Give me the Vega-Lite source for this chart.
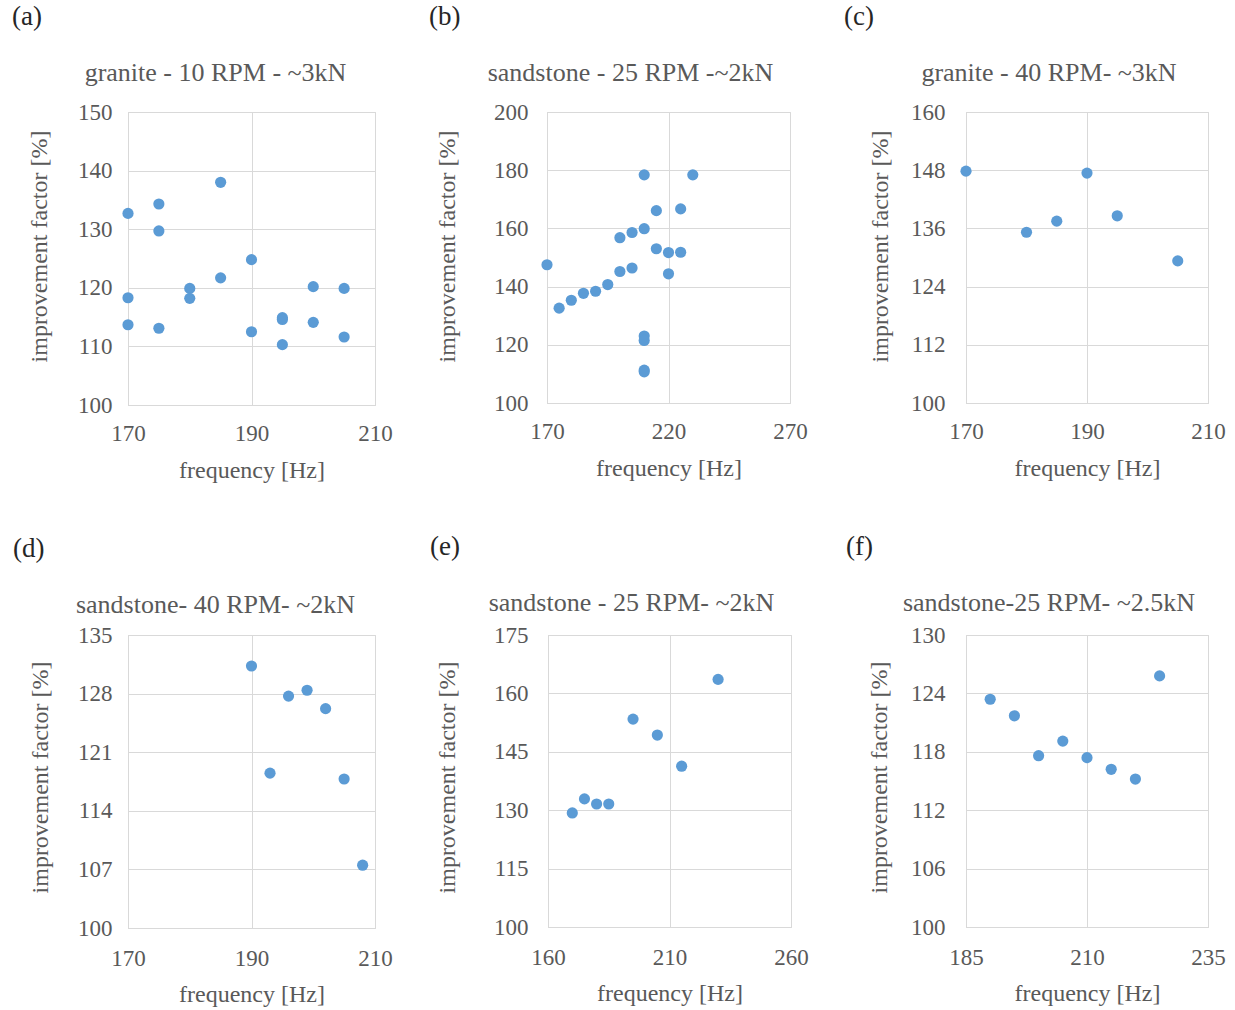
{
  "$schema": "https://vega.github.io/schema/vega-lite/v6.json",
  "background": "white",
  "padding": {"left": 12, "top": 2, "right": 0, "bottom": 0},
  "config": {
    "font": "Liberation Serif",
    "view": {"stroke": "#d9d9d9", "strokeWidth": 1},
    "axis": {
      "domainColor": "#d9d9d9", "gridColor": "#d9d9d9", "grid": true, "ticks": false, "labelFlush": false,
      "labelFont": "Liberation Serif", "labelFontSize": 23, "labelColor": "#595959",
      "titleFont": "Liberation Serif", "titleFontSize": 24, "titleColor": "#595959", "titleFontWeight": "normal"
    },
    "title": {"font": "Liberation Serif", "fontWeight": "normal"}
  },
  "spacing": 49,
  "vconcat": [
    {
      "spacing": 36,
      "hconcat": [
        {
          "title": {"text": "(a)", "anchor": "start", "dx": -15, "fontSize": 27, "color": "#262626", "offset": 29},
          "vconcat": [{
            "width": 247, "height": 293,
            "title": {"text": "granite - 10 RPM - ~3kN", "fontSize": 26, "color": "#595959", "offset": 15, "dx": -36},
            "data": {"values": [
              {"f": 170, "v": 132.7}, {"f": 175, "v": 134.3}, {"f": 175, "v": 129.7}, {"f": 185, "v": 138.0},
              {"f": 190, "v": 124.8}, {"f": 170, "v": 118.3}, {"f": 180, "v": 119.9}, {"f": 180, "v": 118.2},
              {"f": 185, "v": 121.7}, {"f": 200, "v": 120.2}, {"f": 205, "v": 119.9}, {"f": 170, "v": 113.7},
              {"f": 175, "v": 113.1}, {"f": 190, "v": 112.5}, {"f": 195, "v": 114.9}, {"f": 195, "v": 114.6},
              {"f": 200, "v": 114.1}, {"f": 195, "v": 110.3}, {"f": 205, "v": 111.6}
            ]},
            "mark": {"type": "circle", "size": 125, "color": "#5b9bd5", "opacity": 1},
            "encoding": {
              "x": {"field": "f", "type": "quantitative", "scale": {"domain": [170, 210], "nice": false, "zero": false},
                    "axis": {"values": [170, 190, 210], "title": "frequency [Hz]", "labelPadding": 17, "titlePadding": 13}},
              "y": {"field": "v", "type": "quantitative", "scale": {"domain": [100, 150], "nice": false, "zero": false},
                    "axis": {"values": [100, 110, 120, 130, 140, 150], "title": "improvement factor [%]", "labelPadding": 16, "titlePadding": 26, "titleY": 134}}
            }
          }]
        },
        {
          "title": {"text": "(b)", "anchor": "start", "dx": -6, "fontSize": 27, "color": "#262626", "offset": 29},
          "vconcat": [{
            "width": 243, "height": 291,
            "title": {"text": "sandstone - 25 RPM -~2kN", "fontSize": 26, "color": "#595959", "offset": 15, "dx": -38},
            "data": {"values": [
              {"f": 170, "v": 147.5}, {"f": 175, "v": 132.6}, {"f": 180, "v": 135.3}, {"f": 185, "v": 137.7},
              {"f": 190, "v": 138.4}, {"f": 195, "v": 140.7}, {"f": 200, "v": 145.2}, {"f": 200, "v": 156.8},
              {"f": 205, "v": 158.6}, {"f": 205, "v": 146.4}, {"f": 210, "v": 178.4}, {"f": 210, "v": 159.9},
              {"f": 215, "v": 166.1}, {"f": 215, "v": 153.0}, {"f": 220, "v": 151.7}, {"f": 220, "v": 144.4},
              {"f": 225, "v": 166.7}, {"f": 225, "v": 151.8}, {"f": 230, "v": 178.4}, {"f": 210, "v": 123.0},
              {"f": 210, "v": 121.5}, {"f": 210, "v": 111.3}, {"f": 210, "v": 110.7}
            ]},
            "mark": {"type": "circle", "size": 125, "color": "#5b9bd5", "opacity": 1},
            "encoding": {
              "x": {"field": "f", "type": "quantitative", "scale": {"domain": [170, 270], "nice": false, "zero": false},
                    "axis": {"values": [170, 220, 270], "title": "frequency [Hz]", "labelPadding": 17, "titlePadding": 13}},
              "y": {"field": "v", "type": "quantitative", "scale": {"domain": [100, 200], "nice": false, "zero": false},
                    "axis": {"values": [100, 120, 140, 160, 180, 200], "title": "improvement factor [%]", "labelPadding": 19, "titlePadding": 34, "titleY": 134}}
            }
          }]
        },
        {
          "title": {"text": "(c)", "anchor": "start", "dx": -24, "fontSize": 27, "color": "#262626", "offset": 29},
          "vconcat": [{
            "width": 242, "height": 291,
            "title": {"text": "granite - 40 RPM- ~3kN", "fontSize": 26, "color": "#595959", "offset": 15, "dx": -38},
            "data": {"values": [
              {"f": 170, "v": 147.8}, {"f": 180, "v": 135.2}, {"f": 185, "v": 137.5},
              {"f": 190, "v": 147.4}, {"f": 195, "v": 138.6}, {"f": 205, "v": 129.3}
            ]},
            "mark": {"type": "circle", "size": 125, "color": "#5b9bd5", "opacity": 1},
            "encoding": {
              "x": {"field": "f", "type": "quantitative", "scale": {"domain": [170, 210], "nice": false, "zero": false},
                    "axis": {"values": [170, 190, 210], "title": "frequency [Hz]", "labelPadding": 17, "titlePadding": 13}},
              "y": {"field": "v", "type": "quantitative", "scale": {"domain": [100, 160], "nice": false, "zero": false},
                    "axis": {"values": [100, 112, 124, 136, 148, 160], "title": "improvement factor [%]", "labelPadding": 21, "titlePadding": 18, "titleY": 134}}
            }
          }]
        }
      ]
    },
    {
      "spacing": 37,
      "hconcat": [
        {
          "title": {"text": "(d)", "anchor": "start", "dx": -15, "fontSize": 27, "color": "#262626", "offset": 29},
          "vconcat": [{
            "width": 247, "height": 293,
            "title": {"text": "sandstone- 40 RPM- ~2kN", "fontSize": 26, "color": "#595959", "offset": 6, "dx": -36},
            "data": {"values": [
              {"f": 190, "v": 131.3}, {"f": 196, "v": 127.7}, {"f": 199, "v": 128.4}, {"f": 202, "v": 126.2},
              {"f": 193, "v": 118.5}, {"f": 205, "v": 117.8}, {"f": 208, "v": 107.5}
            ]},
            "mark": {"type": "circle", "size": 125, "color": "#5b9bd5", "opacity": 1},
            "encoding": {
              "x": {"field": "f", "type": "quantitative", "scale": {"domain": [170, 210], "nice": false, "zero": false},
                    "axis": {"values": [170, 190, 210], "title": "frequency [Hz]", "labelPadding": 19, "titlePadding": 12}},
              "y": {"field": "v", "type": "quantitative", "scale": {"domain": [100, 135], "nice": false, "zero": false},
                    "axis": {"values": [100, 107, 114, 121, 128, 135], "title": "improvement factor [%]", "labelPadding": 16, "titlePadding": 25, "titleY": 142}}
            }
          }]
        },
        {
          "title": {"text": "(e)", "anchor": "start", "dx": -5, "fontSize": 27, "color": "#262626", "offset": 29},
          "vconcat": [{
            "width": 243, "height": 292,
            "title": {"text": "sandstone - 25 RPM- ~2kN", "fontSize": 26, "color": "#595959", "offset": 8, "dx": -38},
            "data": {"values": [
              {"f": 170, "v": 129.3}, {"f": 175, "v": 132.9}, {"f": 180, "v": 131.6}, {"f": 185, "v": 131.6},
              {"f": 195, "v": 153.4}, {"f": 205, "v": 149.3}, {"f": 215, "v": 141.3}, {"f": 230, "v": 163.6}
            ]},
            "mark": {"type": "circle", "size": 125, "color": "#5b9bd5", "opacity": 1},
            "encoding": {
              "x": {"field": "f", "type": "quantitative", "scale": {"domain": [160, 260], "nice": false, "zero": false},
                    "axis": {"values": [160, 210, 260], "title": "frequency [Hz]", "labelPadding": 19, "titlePadding": 12}},
              "y": {"field": "v", "type": "quantitative", "scale": {"domain": [100, 175], "nice": false, "zero": false},
                    "axis": {"values": [100, 115, 130, 145, 160, 175], "title": "improvement factor [%]", "labelPadding": 20, "titlePadding": 34, "titleY": 142}}
            }
          }]
        },
        {
          "title": {"text": "(f)", "anchor": "start", "dx": -21, "fontSize": 27, "color": "#262626", "offset": 29},
          "vconcat": [{
            "width": 242, "height": 292,
            "title": {"text": "sandstone-25 RPM- ~2.5kN", "fontSize": 26, "color": "#595959", "offset": 8, "dx": -38},
            "data": {"values": [
              {"f": 190, "v": 123.4}, {"f": 195, "v": 121.7}, {"f": 200, "v": 117.6}, {"f": 205, "v": 119.1},
              {"f": 210, "v": 117.4}, {"f": 215, "v": 116.2}, {"f": 220, "v": 115.2}, {"f": 225, "v": 125.8}
            ]},
            "mark": {"type": "circle", "size": 125, "color": "#5b9bd5", "opacity": 1},
            "encoding": {
              "x": {"field": "f", "type": "quantitative", "scale": {"domain": [185, 235], "nice": false, "zero": false},
                    "axis": {"values": [185, 210, 235], "title": "frequency [Hz]", "labelPadding": 19, "titlePadding": 12}},
              "y": {"field": "v", "type": "quantitative", "scale": {"domain": [100, 130], "nice": false, "zero": false},
                    "axis": {"values": [100, 106, 112, 118, 124, 130], "title": "improvement factor [%]", "labelPadding": 21, "titlePadding": 19, "titleY": 142}}
            }
          }]
        }
      ]
    }
  ]
}
